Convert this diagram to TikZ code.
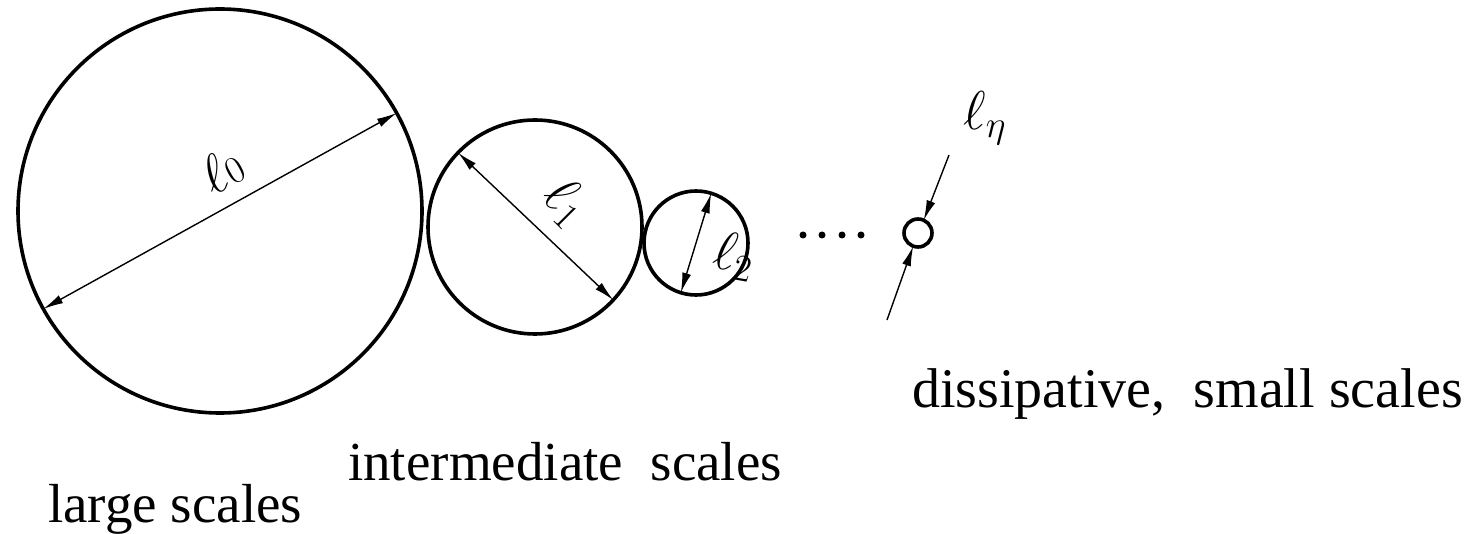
\documentclass[tikz,border=0pt]{standalone}
\usepackage{fontspec}
\setmainfont{Liberation Serif}
\usetikzlibrary{arrows.meta}
\newcommand{\bigmath}[1]{\scalebox{2.2}{\fontsize{25}{30}\selectfont$#1$}}
\begin{document}
\begin{tikzpicture}[x=1pt,y=-1pt,
  ball/.style={circle,draw,line width=3.6pt,inner sep=0pt,outer sep=0pt,minimum size=#1},
  dim/.style={line width=1.4pt,{Latex[length=20pt,width=9pt]}-{Latex[length=20pt,width=9pt]}},
  pin/.style={line width=1.4pt,-{Latex[length=20pt,width=9pt]}},
  lbl/.style={inner sep=0pt},
  txt/.style={font=\fontsize{55}{60}\selectfont,inner sep=0pt,anchor=base west},
  dot/.style={circle,fill,inner sep=0pt,minimum size=7pt}]
\useasboundingbox (0,0) rectangle (1477,534);
% circles
\node[ball=404pt] (c0) at (220,211) {};
\node[ball=214pt] (c1) at (535,227) {};
\node[ball=104pt] (c2) at (696,243) {};
\node[ball=28pt] (ce) at (918,233) {};
% diameters
\draw[dim] (c0.209) -- (c0.29);
\draw[dim] (c1.136) -- (c1.-43);
\draw[dim] (c2.253) -- (c2.73);
% labels
\node[lbl,rotate=29] (l0) at (222,170) {\bigmath{\ell{\scriptstyle 0}}};
\node[lbl,rotate=-45] (l1) at (566,202) {\bigmath{\ell_1}};
\node[lbl,rotate=-10] (l2) at (734,256) {\bigmath{\ell_2}};
\node[lbl] (le) at (985,118) {\bigmath{\ell_\eta}};
% dots
\node[dot] (d1) at (803,235) {};
\node[dot] (d2) at (822,235) {};
\node[dot] (d3) at (842,235) {};
\node[dot] (d4) at (861,235) {};
% eta pins
\coordinate (e1) at (949,155);
\coordinate (e2) at (887,320);
\draw[pin] (e1) -- (ce.66);
\draw[pin] (e2) -- (ce.250);
% texts
\node[txt] (t0) at (48,522) {large scales};
\node[txt] (t1) at (348,480) {intermediate\ \ scales};
\node[txt,font=\fontsize{56}{60}\selectfont] (t2) at (912,407) {dissipative,\ \ small scales};
\end{tikzpicture}
\end{document}
